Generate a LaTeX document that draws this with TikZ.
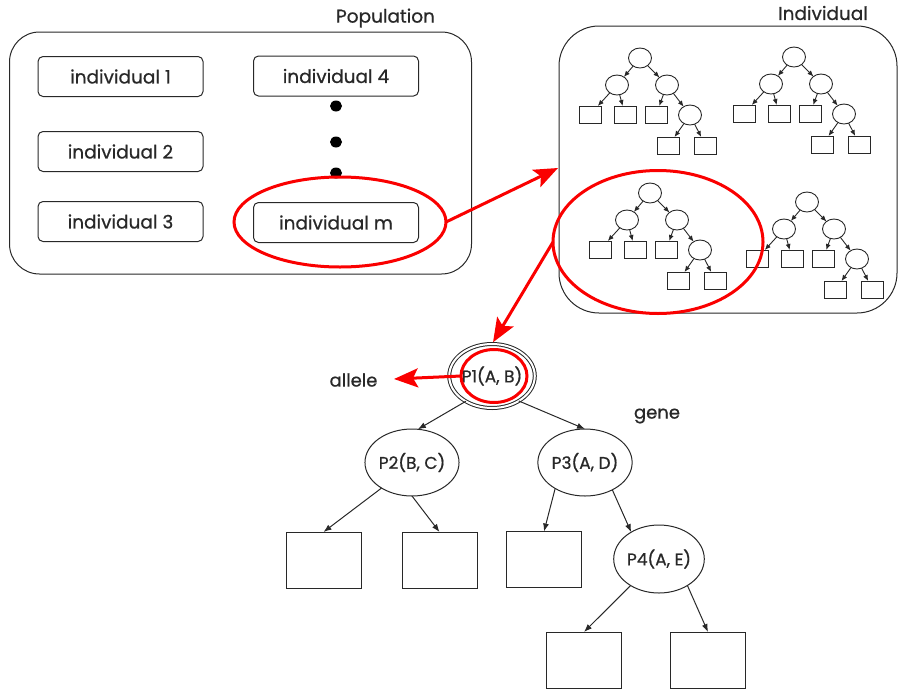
\documentclass[tikz,border=0pt]{standalone}
\usepackage{fontspec}
\setmainfont{Poppins}[FakeBold=0.7,AutoFakeBold=0.7]
\usetikzlibrary{arrows.meta,shapes.geometric}
\definecolor{hl}{RGB}{250,0,0}
\definecolor{ink}{RGB}{40,40,40}
\tikzset{
  minitree/.pic={
    \node[mc] (-r) at (0,0) {};
    \node[mc] (-a) at (-23,27) {};
    \node[mc] (-b) at (27,27) {};
    \node[mb] (-l1) at (-50,56.5) {};
    \node[mb] (-l2) at (-15,56.5) {};
    \node[mb] (-l3) at (16,56.5) {};
    \node[mc] (-c) at (50,57) {};
    \node[mb] (-l4) at (28.5,87.5) {};
    \node[mb] (-l5) at (65.5,87.5) {};
    \draw[marr] (-r) -- (-a);
    \draw[marr] (-r) -- (-b);
    \draw[marr] (-a) -- (-l1);
    \draw[marr] (-a) -- (-l2);
    \draw[marr] (-b) -- (-l3);
    \draw[marr] (-b) -- (-c);
    \draw[marr] (-c) -- (-l4);
    \draw[marr] (-c) -- (-l5);
  }
}
\begin{document}
\begin{tikzpicture}[x=1pt,y=-1pt,
  every node/.style={inner sep=0pt,outer sep=0pt,text=ink},
  bigbox/.style={draw=ink,line width=1pt},
  indbox/.style={draw=ink,line width=1pt,rounded corners=5pt,minimum width=165pt,minimum height=40pt,font=\fontsize{18.5}{20}\selectfont},
  dotn/.style={ellipse,fill=black,minimum width=12pt,minimum height=11pt},
  redring/.style={ellipse,draw=hl,line width=3pt},
  redarr/.style={draw=hl,line width=3pt,-{Stealth[length=24pt,width=19pt,inset=5pt]}},
  mc/.style={ellipse,draw=ink,line width=0.9pt,minimum width=23pt,minimum height=20pt},
  mb/.style={rectangle,draw=ink,line width=0.9pt,minimum width=22pt,minimum height=17pt},
  marr/.style={draw=ink,line width=0.9pt,-{Latex[length=6pt,width=5pt]}},
  gn/.style={ellipse,draw=ink,line width=1pt,fill=white,minimum width=78pt,minimum height=67pt,font=\fontsize{17}{20}\selectfont},
  lf/.style={rectangle,draw=ink,line width=1pt,minimum width=75pt,minimum height=56pt},
  arr/.style={draw=ink,line width=1pt,-{Latex[length=8pt,width=6pt]}},
  lbl/.style={font=\fontsize{18.5}{20}\selectfont},
  slbl/.style={font=\fontsize{18}{20}\selectfont},
]
\useasboundingbox (0,0) rectangle (899,691);

% Population box
\node[bigbox,rounded corners=30pt,minimum width=462pt,minimum height=242pt] (pop) at (240.5,153) {};
\node[lbl] (poplbl) at (385.5,18) {Population};
\node[indbox] (i1) at (120.5,76.5) {individual 1};
\node[indbox] (i2) at (120.5,151.5) {individual 2};
\node[indbox] (i3) at (120.5,221.5) {individual 3};
\node[indbox] (i4) at (336,76) {individual 4};
\node[indbox] (im) at (336,222.5) {individual m};
\node[dotn] (d1) at (336,106) {};
\node[dotn] (d2) at (336,142) {};
\node[dotn] (d3) at (336,173) {};

% Individual box
\node[bigbox,rounded corners=40pt,minimum width=338pt,minimum height=287pt] (ind) at (728,169.5) {};
\node[lbl] (indlbl) at (823,13) {Individual};
\pic (t1) at (640,58) {minitree};
\pic (t2) at (794,57) {minitree};
\pic (t3) at (650,193) {minitree};
\pic (t4) at (807,202) {minitree};

% gene tree
\node[gn,double,double distance=2pt,minimum width=76pt,minimum height=64pt] (p1) at (492,376) {P1(A, B)};
\node[gn] (p2) at (412,462.5) {P2(B, C)};
\node[gn] (p3) at (585,462.5) {P3(A, D)};
\node[gn,minimum width=76pt,minimum height=68pt] (p4) at (659,559) {P4(A, E)};
\node[lf] (b1) at (323.5,560) {};
\node[lf] (b2) at (439.5,560) {};
\node[lf] (b3) at (544,559.5) {};
\node[lf] (b4) at (584,660) {};
\node[lf] (b5) at (708,660) {};
\node[slbl] (allele) at (353.5,380) {allele};
\node[slbl] (gene) at (657,416) {gene};

\draw[arr] (p1.224) -- (p2.80);
\draw[arr] (p1.-43) -- (p3.north);
\draw[arr] (p2.220) -- (b1.north);
\draw[arr] (p2.south) -- (b2.north);
\draw[arr] (p3.221) -- (b3.north);
\draw[arr] (p3.-45) -- (p4.136);
\draw[arr] (p4.223) -- (b4.north);
\draw[arr] (p4.-43) -- (b5.north);

% red highlights
\node[redring,minimum width=212pt,minimum height=90pt] (redm) at (340,222) {};
\node[redring,minimum width=210pt,minimum height=143pt] (redt) at (658,242) {};
\node[redring,minimum width=66pt,minimum height=53pt] (redp) at (494,376) {};
\coordinate (tipA) at (558,168);
\coordinate (tipC) at (394,379);
\draw[redarr] (redm.east) -- (tipA);
\draw[redarr,shorten >=2pt] (redt.west) -- (p1.north);
\draw[redarr] (redp.west) -- (tipC);
\end{tikzpicture}
\end{document}
